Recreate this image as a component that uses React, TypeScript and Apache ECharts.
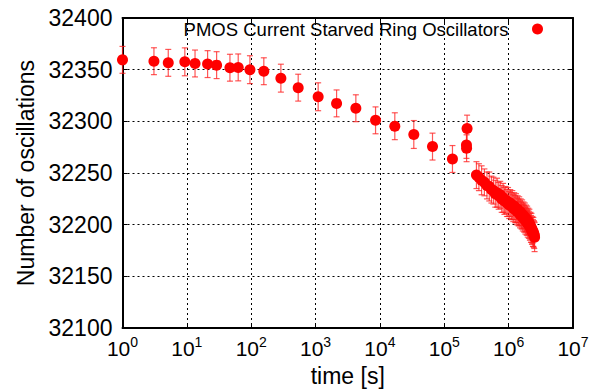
import React, { useEffect, useRef } from "react";
import * as echarts from "echarts";

const seriesName = "PMOS Current Starved Ring Oscillators";
const xAxisTitle = "time [s]";
const yAxisTitle = "Number of oscillations";
const yTicks = [32100, 32150, 32200, 32250, 32300, 32350, 32400];

const times = [
  1, 3.08, 5.14, 9.3, 13.4, 21, 29, 46.7, 62.8, 95.5, 157, 289, 537, 1097, 2120, 4225, 8550,
  17030, 33600, 65600, 134000, 226000, 221000, 222000,
  316000, 345000, 380000, 420000, 460000, 500000, 540000, 580000, 620000, 660000, 700000,
  740000, 780000, 820000, 860000, 900000, 940000, 980000, 1020000, 1060000, 1100000, 1140000,
  1180000, 1220000, 1260000, 1300000, 1340000, 1380000, 1420000, 1460000, 1500000, 1540000,
  1580000, 1620000, 1660000, 1700000, 1740000, 1780000, 1820000, 1860000, 1900000, 1940000,
  1980000, 2020000, 2060000, 2100000, 2140000, 2180000, 2220000, 2260000, 2300000, 2340000,
  2380000, 2420000, 2460000, 2500000, 2530000,
];

const counts = [
  32359.5, 32358.2, 32356.6, 32357.6, 32356, 32355.4, 32354.4, 32351.9, 32352.2, 32350, 32348.5,
  32341.8, 32332.6, 32323.8, 32317.4, 32312.7, 32301, 32295.3, 32287.3, 32275.6, 32263.6,
  32293, 32277.2, 32274,
  32248, 32246, 32243, 32241, 32238, 32237, 32234, 32233, 32230, 32231, 32228,
  32229, 32225, 32226, 32223, 32224, 32221, 32222, 32219, 32221, 32218, 32219,
  32216, 32218, 32215, 32216, 32213, 32215, 32212, 32213, 32210, 32212,
  32209, 32210, 32207, 32209, 32206, 32207, 32204, 32206, 32203, 32204,
  32201, 32203, 32200, 32201, 32198, 32199, 32196, 32197, 32194, 32195,
  32192, 32193, 32191, 32190, 32188,
];

const errors = [
  13, 13, 13, 13.5, 13, 13, 13, 13, 13, 13.5, 13, 13.5, 13, 13.5, 13, 13, 13, 13, 13.5, 13, 13,
  13, 13, 13,
  13, 13, 14, 13, 13, 14, 13, 13, 13, 14, 13,
  13, 13, 14, 13, 13, 13, 14, 13, 13, 13, 14,
  13, 13, 13, 14, 13, 13, 13, 14, 13, 13,
  13, 14, 13, 13, 13, 14, 13, 13, 13, 14,
  13, 13, 13, 14, 13, 13, 13, 14, 13, 13,
  13, 14, 13, 13, 14,
];

const FONT = "'Liberation Sans', Arial, Helvetica, sans-serif";

export default function App() {
  const ref = useRef<HTMLDivElement>(null);
  useEffect(() => {
    document.body.style.margin = "0";
    if (!ref.current) return;
    const chart = echarts.init(ref.current, undefined, { renderer: "svg" });
    const points = times.map((t, i) => [t, counts[i]]);
    const bars = times.map((t, i) => [t, counts[i] - errors[i], counts[i] + errors[i]]);
    const barColor = "rgba(255,30,30,0.75)";
    const option: any = {
      animation: false,
      backgroundColor: "#ffffff",
      textStyle: { fontFamily: FONT },
      grid: { left: 122.5, right: 37, top: 18, bottom: 58, containLabel: false },
      legend: {
        data: [{ name: seriesName, icon: "circle" }],
        right: 67,
        top: 19,
        padding: 0,
        align: "right",
        itemWidth: 48,
        itemHeight: 11,
        textStyle: { fontSize: 18.5, color: "#000", fontFamily: FONT, lineHeight: 20 },
        backgroundColor: "transparent",
      },
      xAxis: [
        {
          type: "log",
          logBase: 10,
          min: 1,
          max: 10000000,
          name: xAxisTitle,
          nameLocation: "middle",
          nameGap: 31,
          nameTextStyle: { fontSize: 23, color: "#000", fontFamily: FONT },
          axisLine: { show: true, lineStyle: { color: "#000", width: 2 } },
          axisTick: { show: true, inside: true, length: 5, lineStyle: { color: "#000", width: 1 } },
          axisLabel: {
            margin: 7,
            color: "#000",
            formatter: (v: number) => `{b|10}{s|${Math.round(Math.log10(v))}}`,
            rich: {
              b: { fontSize: 21, fontFamily: FONT, color: "#000", lineHeight: 24, verticalAlign: "bottom" },
              s: { fontSize: 14, fontFamily: FONT, color: "#000", lineHeight: 14, verticalAlign: "top" },
            },
          },
          splitLine: { show: true, lineStyle: { color: "#000", width: 1, type: [2, 3] } },
        },
        {
          type: "log",
          logBase: 10,
          min: 1,
          max: 10000000,
          position: "top",
          axisLine: { show: true, lineStyle: { color: "#000", width: 2 } },
          axisTick: { show: true, inside: true, length: 5, lineStyle: { color: "#000", width: 1 } },
          axisLabel: { show: false },
          splitLine: { show: false },
        },
      ],
      yAxis: [
        {
          type: "value",
          min: 32100,
          max: 32400,
          interval: 50,
          name: yAxisTitle,
          nameLocation: "middle",
          nameGap: 78,
          nameTextStyle: { fontSize: 23, color: "#000", fontFamily: FONT },
          axisLine: { show: true, lineStyle: { color: "#000", width: 2 } },
          axisTick: { show: true, inside: true, length: 5, lineStyle: { color: "#000", width: 1 } },
          axisLabel: {
            fontSize: 23,
            color: "#000",
            margin: 10,
            fontFamily: FONT,
            formatter: (v: number) => (yTicks.includes(v) ? String(v) : String(v)),
          },
          splitLine: { show: true, lineStyle: { color: "#000", width: 1, type: [2, 3] } },
        },
        {
          type: "value",
          min: 32100,
          max: 32400,
          interval: 50,
          position: "right",
          axisLine: { show: true, lineStyle: { color: "#000", width: 2 } },
          axisTick: { show: true, inside: true, length: 5, lineStyle: { color: "#000", width: 1 } },
          axisLabel: { show: false },
          splitLine: { show: false },
        },
      ],
      series: [
        {
          type: "custom",
          name: "errorbars",
          xAxisIndex: 0,
          yAxisIndex: 0,
          data: bars,
          encode: { x: 0, y: [1, 2] },
          clip: false,
          z: 2,
          renderItem: (params: any, api: any) => {
            const x = api.value(0);
            const lo = api.coord([x, api.value(1)]);
            const hi = api.coord([x, api.value(2)]);
            const w = 3;
            const style = { stroke: barColor, lineWidth: 1.2 };
            return {
              type: "group",
              children: [
                { type: "line", shape: { x1: lo[0], y1: lo[1], x2: hi[0], y2: hi[1] }, style },
                { type: "line", shape: { x1: lo[0] - w, y1: lo[1], x2: lo[0] + w, y2: lo[1] }, style },
                { type: "line", shape: { x1: hi[0] - w, y1: hi[1], x2: hi[0] + w, y2: hi[1] }, style },
              ],
            };
          },
        },
        {
          type: "scatter",
          name: seriesName,
          xAxisIndex: 0,
          yAxisIndex: 0,
          data: points,
          symbol: "circle",
          symbolSize: 11,
          itemStyle: { color: "#ff0000", opacity: 1 },
          clip: false,
          z: 3,
        },
      ],
    };
    chart.setOption(option);
    return () => chart.dispose();
  }, []);
  return (
    <div
      ref={ref}
      style={{ width: 610, height: 392, position: "absolute", left: 0, top: 0, background: "#fff" }}
    />
  );
}
